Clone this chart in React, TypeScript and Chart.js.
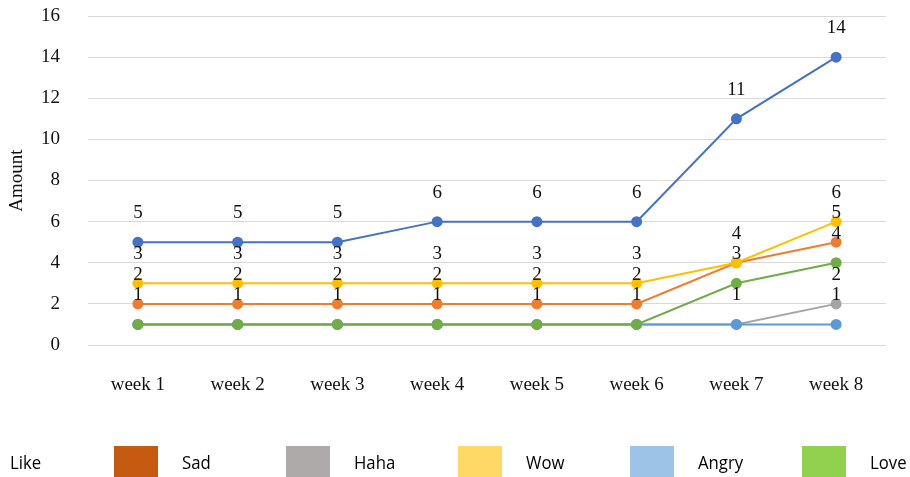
import React, { useEffect, useRef } from "react";
import { Chart, registerables } from "chart.js";

Chart.register(...registerables);

const weeks = ["week 1", "week 2", "week 3", "week 4", "week 5", "week 6", "week 7", "week 8"];
const like = [5, 5, 5, 6, 6, 6, 11, 14];
const sad = [2, 2, 2, 2, 2, 2, 4, 5];
const haha = [1, 1, 1, 1, 1, 1, 1, 2];
const wow = [3, 3, 3, 3, 3, 3, 4, 6];
const angry = [1, 1, 1, 1, 1, 1, 1, 1];
const love = [1, 1, 1, 1, 1, 1, 3, 4];

const seriesNames = ["Like", "Sad", "Haha", "Wow", "Angry", "Love"];
const seriesValues = [like, sad, haha, wow, angry, love];
const lineColors = ["#4472C4", "#ED7D31", "#A5A5A5", "#FFC000", "#5B9BD5", "#70AD47"];
const legendColors = ["#2F5597", "#C55A11", "#AEAAAA", "#FFD966", "#9DC3E6", "#92D050"];
const yTicks = [0, 2, 4, 6, 8, 10, 12, 14, 16];

const SERIF = "'Liberation Serif', 'Times New Roman', serif";
const SANS = "'Open Sans', 'Noto Sans', sans-serif";

const dataLabelPlugin = {
  id: "dataLabels",
  afterDatasetsDraw(chart: any) {
    const ctx = chart.ctx;
    ctx.save();
    ctx.font = `19px ${SERIF}`;
    ctx.fillStyle = "#111";
    ctx.textAlign = "center";
    ctx.textBaseline = "middle";
    const seen = new Set<string>();
    chart.data.datasets.forEach((ds: any, di: number) => {
      const meta = chart.getDatasetMeta(di);
      meta.data.forEach((pt: any, i: number) => {
        const key = `${Math.round(pt.x)}|${Math.round(pt.y)}|${ds.data[i]}`;
        if (seen.has(key)) return;
        seen.add(key);
        ctx.fillText(String(ds.data[i]), pt.x, pt.y - 29);
      });
    });
    ctx.restore();
  },
};

const bottomLegendPlugin = {
  id: "bottomLegend",
  afterDraw(chart: any) {
    const ctx = chart.ctx;
    const step = 172;
    const firstSwatch = -58;
    const top = 446;
    const h = 31;
    seriesNames.forEach((name, i) => {
      const sx = firstSwatch + step * i;
      ctx.save();
      ctx.fillStyle = legendColors[i];
      ctx.fillRect(sx, top, 44, h);
      ctx.translate(sx + 68, 464);
      ctx.scale(0.93, 1);
      ctx.font = `18px ${SANS}`;
      ctx.textBaseline = "middle";
      ctx.textAlign = "left";
      ctx.fillStyle = "#000";
      ctx.fillText(name, 0, 0);
      ctx.restore();
    });
  },
};

export default function App() {
  const ref = useRef<HTMLCanvasElement>(null);
  useEffect(() => {
    document.body.style.margin = "0";
    const chart = new Chart(ref.current!, {
      type: "line",
      data: {
        labels: weeks,
        datasets: seriesNames.map((name, i) => ({
          label: name,
          data: seriesValues[i],
          borderColor: lineColors[i],
          backgroundColor: lineColors[i],
          pointBackgroundColor: lineColors[i],
          pointBorderColor: lineColors[i],
          pointRadius: 4.5,
          pointHoverRadius: 4.5,
          borderWidth: 2,
          tension: 0,
          order: seriesNames.length - i,
        })),
      },
      options: {
        animation: false,
        responsive: false,
        maintainAspectRatio: false,
        devicePixelRatio: 1,
        layout: { padding: { top: 16, right: 24, left: 0, bottom: 0 } },
        plugins: {
          legend: { display: false },
          tooltip: { enabled: false },
        },
        scales: {
          x: {
            offset: true,
            grid: { display: false, drawTicks: false },
            border: { display: false },
            ticks: {
              font: { family: SERIF, size: 19 },
              color: "#111",
              padding: 29,
              maxRotation: 0,
            },
            afterFit(scale: any) {
              scale.height = 132;
              scale.paddingLeft = 0;
              scale.paddingRight = 0;
            },
          },
          y: {
            min: 0,
            max: 16,
            afterBuildTicks(scale: any) {
              scale.ticks = yTicks.map((v) => ({ value: v }));
            },
            grid: { color: "#d9d9d9", lineWidth: 1, drawTicks: false },
            border: { display: false },
            ticks: {
              font: { family: SERIF, size: 19 },
              color: "#111",
              padding: 28,
            },
            title: {
              display: true,
              text: "Amount",
              font: { family: SERIF, size: 19 },
              color: "#111",
              padding: { top: 6, bottom: 0 },
            },
            afterFit(scale: any) {
              scale.width = 88;
              scale.paddingTop = 0;
              scale.paddingBottom = 0;
            },
          },
        },
      },
      plugins: [dataLabelPlugin, bottomLegendPlugin],
    });
    return () => chart.destroy();
  }, []);
  return (
    <div style={{ width: 910, height: 477 }}>
      <canvas ref={ref} width={910} height={477} />
    </div>
  );
}
